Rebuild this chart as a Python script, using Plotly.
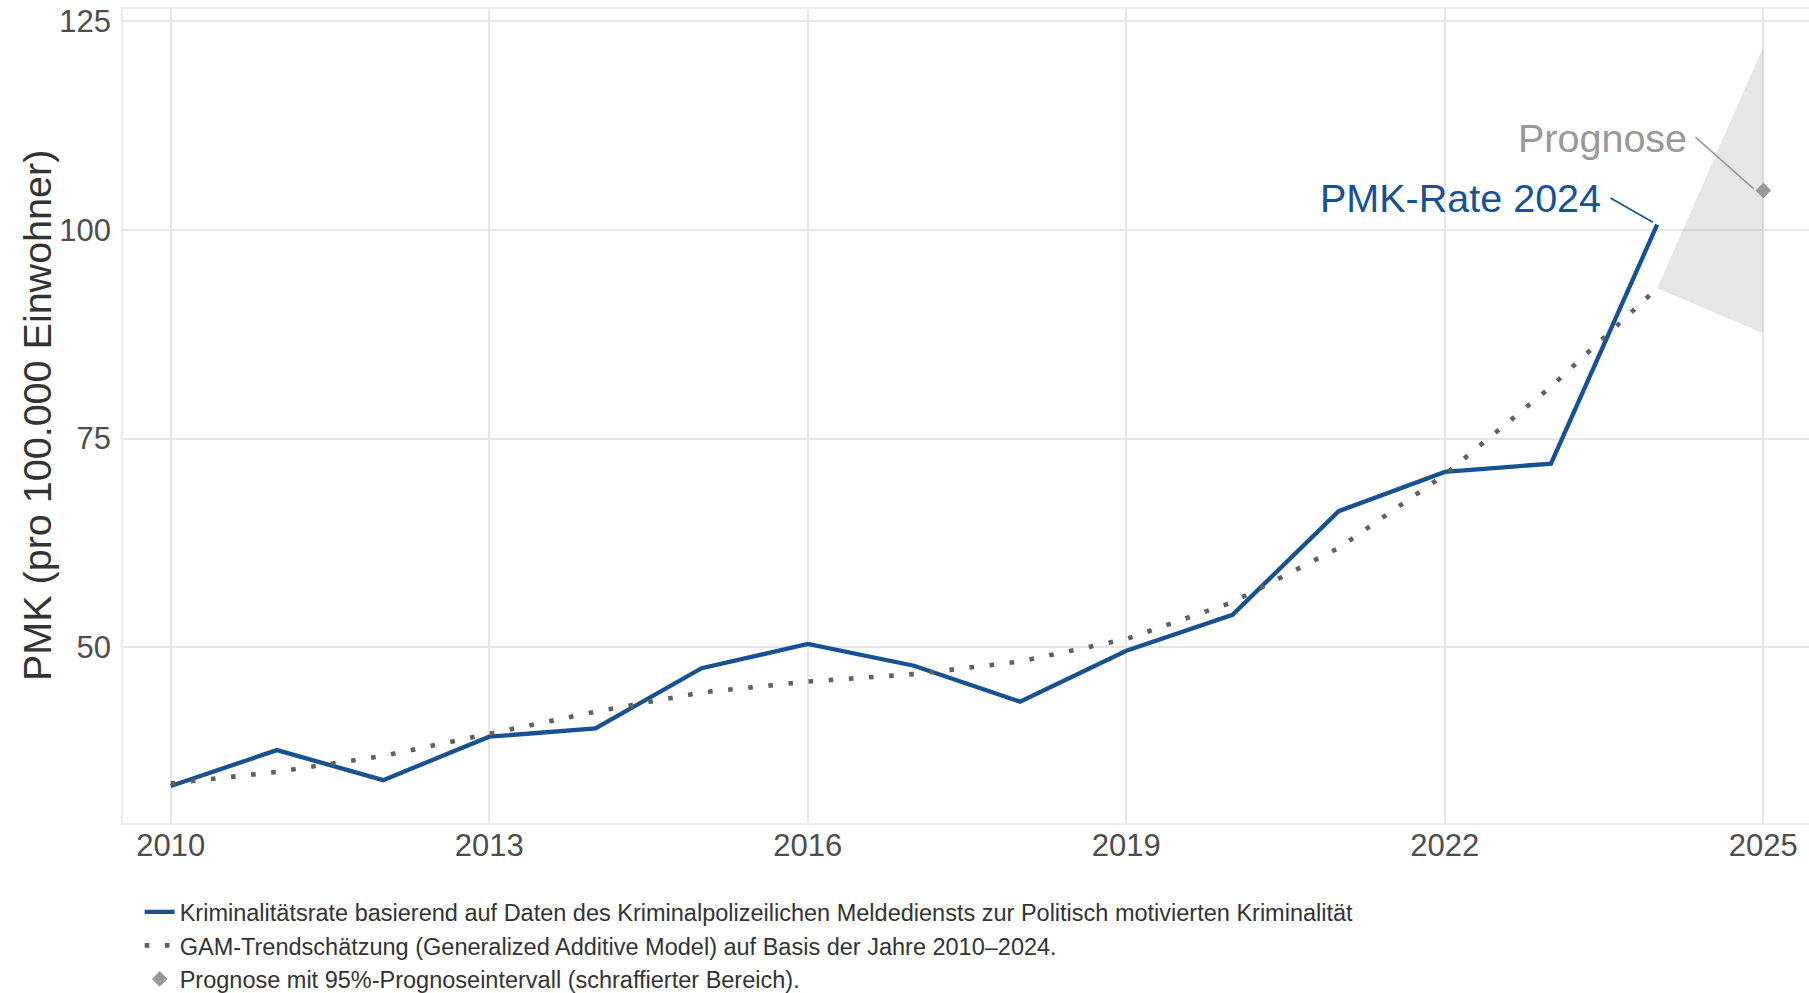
import plotly.graph_objects as go

# ---- data ----
years = [2010, 2011, 2012, 2013, 2014, 2015, 2016, 2017, 2018, 2019, 2020, 2021, 2022, 2023, 2024]
pmk_rate = [33.4, 37.7, 34.1, 39.3, 40.3, 47.5, 50.4, 47.8, 43.5, 49.6, 53.9, 66.3, 71.0, 72.0, 100.6]
gam_trend = [33.7, 35.1, 37.0, 39.7, 42.3, 44.6, 45.9, 46.8, 48.3, 51.0, 55.4, 61.9, 70.7, 81.2, 93.0]
forecast_band_years = [2024, 2025]
forecast_lower = [93.0, 87.6]
forecast_upper = [93.0, 121.9]
forecast_year = [2025]
forecast_value = [104.7]
x_ticks = [2010, 2013, 2016, 2019, 2022, 2025]
y_ticks = [50, 75, 100, 125]

label_rate = ("Kriminalitätsrate basierend auf Daten des Kriminalpolizeilichen Meldediensts "
              "zur Politisch motivierten Kriminalität")
label_gam = "GAM-Trendschätzung (Generalized Additive Model) auf Basis der Jahre 2010–2024."
label_fc = "Prognose mit 95%-Prognoseintervall (schraffierter Bereich)."
y_title = "PMK (pro 100.000 Einwohner)"

BLUE = "#165293"
GRAY_DOT = "#606060"
GRAY_FC = "#999999"
FONT = "Arial, 'Liberation Sans', sans-serif"

fig = go.Figure()

# forecast interval band
fig.add_trace(go.Scatter(
    x=forecast_band_years + forecast_band_years[::-1],
    y=forecast_upper + forecast_lower[::-1],
    fill="toself", fillcolor="rgba(150,150,150,0.24)",
    line=dict(width=0), mode="lines", showlegend=False, hoverinfo="skip"))

fig.add_trace(go.Scatter(
    x=years, y=pmk_rate, mode="lines", name=label_rate, legendgroup="a",
    line=dict(color=BLUE, width=4.3)))

fig.add_trace(go.Scatter(
    x=years, y=gam_trend, mode="lines", name=label_gam, legendgroup="b",
    line=dict(color=GRAY_DOT, width=4.6, dash="4.6px,15.6px")))

fig.add_trace(go.Scatter(
    x=forecast_year, y=forecast_value, mode="markers", name=label_fc, legendgroup="c",
    marker=dict(symbol="diamond", size=12, color=GRAY_FC)))

# leader lines
fig.add_shape(type="line", xref="x", yref="y", x0=2023.56, y0=103.8, x1=2023.96, y1=100.9,
              line=dict(color=BLUE, width=1.6))
fig.add_shape(type="line", xref="x", yref="y", x0=2024.36, y0=111.1, x1=2024.91, y1=104.9,
              line=dict(color=GRAY_FC, width=1.6))

fig.add_annotation(x=2023.49, y=103.8, xref="x", yref="y", text="PMK-Rate 2024",
                   showarrow=False, xanchor="right", yanchor="middle",
                   font=dict(family=FONT, size=39.5, color=BLUE))
fig.add_annotation(x=2024.30, y=111.0, xref="x", yref="y", text="Prognose",
                   showarrow=False, xanchor="right", yanchor="middle",
                   font=dict(family=FONT, size=39.5, color=GRAY_FC))

# y-axis title
fig.add_annotation(x=-0.051, y=0.5, xref="paper", yref="paper", text=y_title,
                   showarrow=False, textangle=-90, xanchor="center", yanchor="middle",
                   font=dict(family=FONT, size=39.5, color="#333333"))

fig.update_layout(
    width=1809, height=993,
    margin=dict(l=123, r=0, t=9, b=170),
    paper_bgcolor="white", plot_bgcolor="white",
    font=dict(family=FONT, color="#333333"),
    showlegend=True,
    legend=dict(orientation="v", x=0.0099, y=0.1037, xanchor="left", yanchor="top",
                xref="paper", yref="container",
                font=dict(family=FONT, size=23.5, color="#333333"),
                bgcolor="rgba(0,0,0,0)", itemwidth=30, tracegroupgap=0),
    xaxis=dict(range=[2009.55, 2025.43], tickmode="array", tickvals=x_ticks,
               ticktext=[str(v) for v in x_ticks], automargin=False,
               ticklabeloverflow="allow",
               showgrid=True, gridcolor="#e6e6e6", gridwidth=1.6,
               zeroline=False, showline=True, mirror=True, linecolor="#ebebeb", linewidth=1.6,
               ticks="", ticklabelstandoff=-6,
               tickfont=dict(family=FONT, size=31, color="#4d4d4d")),
    yaxis=dict(range=[28.97, 126.43], tickmode="array", tickvals=y_ticks,
               ticktext=[str(v) for v in y_ticks], automargin=False,
               ticklabeloverflow="allow",
               showgrid=True, gridcolor="#e6e6e6", gridwidth=1.6,
               zeroline=False, showline=True, mirror=True, linecolor="#ebebeb", linewidth=1.6,
               ticks="", ticklabelstandoff=4,
               tickfont=dict(family=FONT, size=31, color="#4d4d4d")),
)

# remove the browser's default 8px body margin so the figure fills the window exactly
fig.write_html("out.html", config={"displayModeBar": False},
               post_script="document.body.style.margin='0px';")
